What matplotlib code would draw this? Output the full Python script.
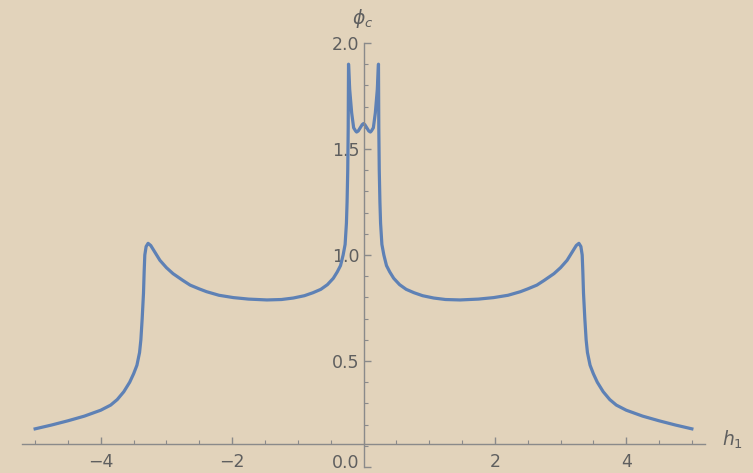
"""
Critical field phi_c versus h_1 (Mathematica-style plot on parchment background).
"""

import matplotlib.pyplot as plt
import matplotlib.transforms as mtransforms
from matplotlib.ticker import MultipleLocator, FixedLocator

# Curve
h1 = [
    -5.00, -4.75, -4.50, -4.25, -4.00, -3.85, -3.75, -3.65, -3.56, -3.50,
    -3.45, -3.41, -3.39, -3.37, -3.35, -3.34, -3.33, -3.31, -3.28, -3.24,
    -3.17, -3.10, -3.00, -2.90, -2.75, -2.64, -2.50, -2.39, -2.20, -1.98,
    -1.75, -1.47, -1.25, -1.07, -0.90, -0.77, -0.65, -0.55, -0.46, -0.40,
    -0.35, -0.31, -0.28, -0.26, -0.25, -0.24, -0.233, -0.228, -0.21, -0.18,
    -0.15, -0.12, -0.105, -0.08, -0.05, -0.02, 0.00,
    0.02, 0.05, 0.08, 0.105, 0.12, 0.15, 0.18, 0.21, 0.228, 0.233,
    0.24, 0.25, 0.26, 0.28, 0.31, 0.35, 0.40, 0.46, 0.55, 0.65,
    0.77, 0.90, 1.07, 1.25, 1.47, 1.75, 1.98, 2.20, 2.39, 2.50,
    2.64, 2.75, 2.90, 3.00, 3.10, 3.17, 3.24, 3.28, 3.31, 3.33,
    3.34, 3.35, 3.37, 3.39, 3.41, 3.45, 3.50, 3.56, 3.65, 3.75,
    3.85, 4.00, 4.25, 4.50, 4.75, 5.00,
]
phi_c = [
    0.180, 0.198, 0.218, 0.240, 0.268, 0.292, 0.318, 0.355, 0.400, 0.440,
    0.480, 0.540, 0.600, 0.700, 0.820, 0.920, 1.000, 1.040, 1.055, 1.045,
    1.010, 0.975, 0.940, 0.912, 0.880, 0.858, 0.840, 0.827, 0.810, 0.799,
    0.792, 0.788, 0.790, 0.797, 0.808, 0.822, 0.838, 0.860, 0.890, 0.920,
    0.950, 1.000, 1.050, 1.150, 1.250, 1.400, 1.600, 1.900, 1.780, 1.670,
    1.600, 1.585, 1.580, 1.585, 1.600, 1.615, 1.620,
    1.615, 1.600, 1.585, 1.580, 1.585, 1.600, 1.670, 1.780, 1.900, 1.600,
    1.400, 1.250, 1.150, 1.050, 1.000, 0.950, 0.920, 0.890, 0.860, 0.838,
    0.822, 0.808, 0.797, 0.790, 0.788, 0.792, 0.799, 0.810, 0.827, 0.840,
    0.858, 0.880, 0.912, 0.940, 0.975, 1.010, 1.045, 1.055, 1.040, 1.000,
    0.920, 0.820, 0.700, 0.600, 0.540, 0.480, 0.440, 0.400, 0.355, 0.318,
    0.292, 0.268, 0.240, 0.218, 0.198, 0.180,
]

x_major = [-4, -2, 2, 4]
x_labels = ["\u22124", "\u22122", "2", "4"]
y_major = [0.0, 0.5, 1.0, 1.5, 2.0]
y_labels = ["0.0", "0.5", "1.0", "1.5", "2.0"]

bg = "#e2d3bb"
axis_color = "#8a8a8a"
text_color = "#5f5f5f"

plt.rcParams["mathtext.fontset"] = "dejavusans"

fig = plt.figure(figsize=(7.53, 4.73), dpi=100, facecolor=bg)
ax = fig.add_axes([22 / 753, 6 / 473, 683 / 753, 424 / 473])
ax.set_facecolor(bg)

ax.plot(h1, phi_c, color="#5e81b5", linewidth=2.3, solid_joinstyle="round")

ax.set_xlim(-5.2, 5.2)
ax.set_ylim(0.0, 2.0)

# Mathematica-style axes crossing inside the frame
ax.spines["left"].set_position(("data", 0))
ax.spines["bottom"].set_position(("data", 0.11))
ax.spines["right"].set_visible(False)
ax.spines["top"].set_visible(False)
for s in ("left", "bottom"):
    ax.spines[s].set_color(axis_color)
    ax.spines[s].set_linewidth(1.0)

ax.xaxis.set_major_locator(FixedLocator(x_major))
ax.set_xticklabels(x_labels)
ax.xaxis.set_minor_locator(MultipleLocator(0.5))
ax.yaxis.set_major_locator(FixedLocator(y_major))
ax.set_yticklabels(y_labels)
ax.yaxis.set_minor_locator(MultipleLocator(0.1))

ax.tick_params(which="both", direction="in", colors=axis_color,
               labelcolor=text_color, labelsize=12.5)
ax.tick_params(which="major", length=5, width=1.0)
ax.tick_params(which="minor", length=3, width=0.8)
ax.tick_params(axis="x", pad=7)
ax.tick_params(axis="y", pad=3)

# lift the "0.0" label a little so it stays inside the figure
zero_label = ax.get_yticklabels()[0]
zero_label.set_transform(zero_label.get_transform()
                         + mtransforms.ScaledTranslation(0, 4 / 72, fig.dpi_scale_trans))

fig.text(363 / 753, 1 - 18 / 473, r"$\phi_c$", color=text_color,
         fontsize=13.5, ha="center", va="center")
fig.text(733 / 753, 1 - 440 / 473, r"$h_1$", color=text_color,
         fontsize=13.5, ha="center", va="center")

fig.savefig("out.png", dpi=100, facecolor=bg)
